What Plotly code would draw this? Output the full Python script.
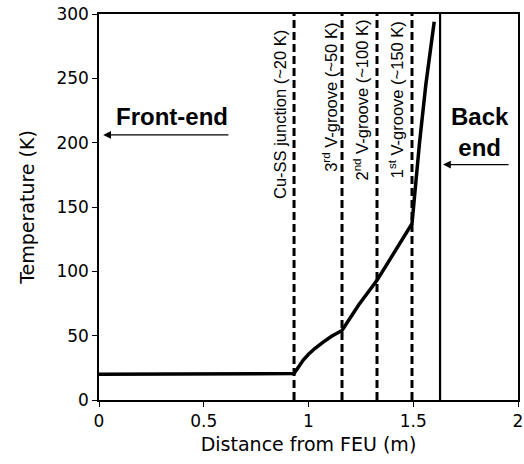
import plotly.graph_objects as go

# Temperature profile along the feed (distance from FEU in m, temperature in K)
dist = [0.0, 0.2, 0.5, 0.8, 0.931, 0.95, 0.975, 1.0, 1.03, 1.07, 1.11, 1.16,
        1.24, 1.327, 1.41, 1.494, 1.51, 1.53, 1.56, 1.60]
temp = [20.0, 20.0, 20.0, 20.0, 20.5, 25.0, 31.0, 35.5, 40.0, 45.0, 49.5, 54.0,
        74.0, 93.0, 115.0, 137.0, 165.0, 200.0, 245.0, 294.0]

# Interface positions (m) and their labels
marker_x = [0.931, 1.16, 1.327, 1.494]
marker_labels = [
    "Cu-SS junction (~20 K)",
    "3<sup>rd</sup> V-groove (~50 K)",
    "2<sup>nd</sup> V-groove (~100 K)",
    "1<sup>st</sup> V-groove (~150 K)",
]
back_end_x = 1.628

fig = go.Figure()
fig.add_trace(go.Scatter(x=dist, y=temp, mode="lines",
                         line=dict(color="black", width=3.5), showlegend=False))

for xv in marker_x:
    fig.add_shape(type="line", x0=xv, x1=xv, y0=0, y1=300, xref="x", yref="y",
                  line=dict(color="black", width=3, dash="8px,4px"))
fig.add_shape(type="line", x0=back_end_x, x1=back_end_x, y0=0, y1=300,
              xref="x", yref="y", line=dict(color="black", width=2.2))

label_font = dict(family="Liberation Sans, Arial", size=16.5, color="black")
label_pos = [(0.867, 222), (1.099, 235), (1.252, 233), (1.418, 233)]
for (lx, ly), txt in zip(label_pos, marker_labels):
    fig.add_annotation(x=lx, y=ly, text=txt, showarrow=False, textangle=-90,
                       font=label_font)

fig.add_annotation(x=0.349, y=220, text="<b>Front-end</b>", showarrow=False,
                   font=dict(family="Liberation Sans, Arial", size=24, color="black"))
fig.add_annotation(x=0.02, y=206, ax=0.625, ay=206, axref="x", ayref="y",
                   text="", showarrow=True, arrowhead=2, arrowsize=1.2,
                   arrowwidth=1.3, arrowcolor="black")
fig.add_annotation(x=1.82, y=208, text="<b>Back<br>end</b>", showarrow=False,
                   font=dict(family="Liberation Sans, Arial", size=24, color="black"))
fig.add_annotation(x=1.642, y=183, ax=1.962, ay=183, axref="x", ayref="y",
                   text="", showarrow=True, arrowhead=2, arrowsize=1.2,
                   arrowwidth=1.3, arrowcolor="black")

axis_font = dict(family="DejaVu Sans", size=17, color="black")
title_font = dict(family="DejaVu Sans", size=19, color="black")
fig.update_xaxes(range=[0, 2], tickvals=[0, 0.5, 1, 1.5, 2],
                 ticktext=["0", "0.5", "1", "1.5", "2"],
                 ticks="outside", ticklen=5, tickcolor="black",
                 showline=True, linecolor="black", linewidth=1.5, mirror=True,
                 showgrid=False, zeroline=False, tickfont=axis_font, automargin=False,
                 title=dict(text="Distance from FEU (m)", font=title_font, standoff=8))
fig.update_yaxes(range=[0, 300], tickvals=[0, 50, 100, 150, 200, 250, 300],
                 ticks="outside", ticklen=5, tickcolor="black",
                 showline=True, linecolor="black", linewidth=1.5, mirror=True,
                 showgrid=False, zeroline=False, tickfont=axis_font, automargin=False,
                 title=dict(text="Temperature (K)", font=title_font, standoff=17))
fig.update_layout(width=524, height=464, margin=dict(l=99, r=6, t=14, b=64),
                  plot_bgcolor="white", paper_bgcolor="white")

fig.write_html("out.html")
